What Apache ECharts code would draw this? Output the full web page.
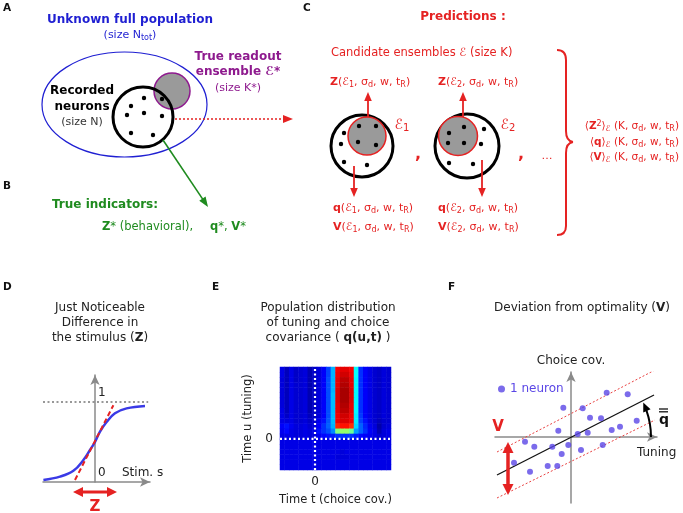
<!DOCTYPE html>
<html><head><meta charset="utf-8">
<script src="https://cdn.jsdelivr.net/npm/echarts@6/dist/echarts.min.js"></script>
<style>html,body{margin:0;padding:0;background:#fff}#c{width:683px;height:513px}</style>
</head><body><div id="c"></div>
<script>
// ---------- Panel D : psychometric curve ----------
const sigmoidS = [-1.29, -0.875, -0.54, -0.29, -0.125, 0, 0.125, 0.29, 0.5, 0.79, 1.25];
const sigmoidP = [0.025, 0.067, 0.14, 0.275, 0.4, 0.5, 0.63, 0.75, 0.86, 0.92, 0.95];
const tangentS = [-0.5, 0.46];
const tangentP = [0.025, 0.96];
const ceilingS = [-1.3, 1.33];
const ceilingP = [1, 1];
const zArrowS = [-0.55, 0.55];
const zArrowP = -0.125;

// ---------- Panel E : q(u,t) heat map (rows top->bottom, jet scale 0-100) ----------
const heatRows = [
 [10, 6,10, 7, 8, 9, 5, 7, 9,12,19,30,88,90,90,88,38,17,12,10, 8, 7, 9, 8],
 [10, 6,10, 7, 8, 9, 5, 7, 9,12,19,30,89,92,92,89,38,17,12,10, 8, 7, 9, 8],
 [ 9, 6,10, 7, 8, 9, 5, 7, 9,12,20,30,90,94,94,90,37,17,12,10, 8, 7, 9, 8],
 [ 9, 6,10, 8, 8, 9, 5, 7, 9,12,20,30,90,95,95,90,37,17,12,10, 8, 7, 9, 8],
 [ 9, 6,10, 8, 8, 9, 5, 7, 9,12,20,30,91,96,96,91,37,17,12,10, 8, 7, 9, 8],
 [ 9, 6,10, 8, 8, 9, 5, 7, 9,12,20,31,91,96,96,91,37,17,12,10, 8, 7, 9, 8],
 [ 9, 6,10, 8, 8, 9, 5, 7, 9,12,20,31,91,96,96,91,37,17,12,10, 8, 7, 9, 8],
 [ 9, 6,10, 8, 8, 9, 5, 7, 9,12,20,31,90,95,95,90,37,17,12,10, 8, 7, 9, 8],
 [10, 6,10, 8, 8, 9, 5, 7, 9,12,20,31,90,94,94,90,37,17,12,10, 8, 7, 9, 8],
 [10, 7,10, 8, 8, 9, 6, 7, 9,12,20,31,89,92,92,89,36,18,12,10, 8, 7, 9, 8],
 [10, 9,10, 8, 8, 9, 7, 8,11,14,21,31,89,91,91,89,36,19,14,10, 8, 6, 8, 8],
 [12,14,11, 9, 9,10, 8, 9,12,17,22,30,84,86,86,83,34,22,16,11, 9, 4, 8, 9],
 [11,13,10, 9, 9,10, 9,10,14,17,20,26,50,52,52,48,28,22,17,12,10, 5, 9,10],
 [10,10,10, 9, 9,10, 9, 9,11,13,14,15,17,17,17,17,15,13,12,11,10, 8, 9,10],
 [10,10,10,10,10,10,10,10,10,10,10,10,10,10,10,10,10,10,10,10,10,10,10,10],
 [10,10,10,10,10,10,10,10,10,10,10,10,10,10,10,10,10,10,10,10,10,10,10,10],
 [10,10,10,10,10,10,10,10,10,10,10,10,10, 9,10,10,10,10,10,10,10,10,10,10],
 [10,10,10,10,10,10,10,10,10,10,10,10, 9, 9, 9,10,10,10,10,10,10,10,10,10],
 [10,10,10,10,10,10,10,10,10,10,10,10,10,10,10,10,10,10,10,10,10,10,10,10],
 [10,10,10,10,10,10,10,10,10,10,10,10,10,10,10,10,10,10,10,10,10,10,10,10]
];
const heatTimeT = [-0.7, 1.52];   // extent of choice-cov. time axis
const heatTimeU = [-0.6, 1.39];   // extent of tuning time axis

// ---------- Panel F : tuning vs choice covariance ----------
const tuning    = [-0.77, 1.17, 3.57, 5.67, 1.9, 3.0, -1.27, 0.67, 1.67, 4.07, 4.9, 6.57, -4.6, -3.67, -1.87, -0.27, -0.93, 1.0, 3.17, -5.7, -4.1, -2.33, -1.37];
const choiceCov = [2.93, 2.87, 4.43, 4.27, 1.93, 1.87, 0.63, 0.3, 0.43, 0.7, 1.03, 1.63, -0.47, -0.97, -0.97, -0.8, -1.7, -1.3, -0.8, -2.57, -3.47, -2.9, -2.9];
const fitX = [-7.4, 8.3],   fitY = [-3.8, 4.2];
const upX  = [-7.4, 8.4],   upY  = [-1.5, 6.7];
const loX  = [-7.4, 8.4],   loY  = [-6.1, 1.7];
const vArrowX = -6.3, vArrowY = [-0.5, -5.8];

const FF = 'DejaVu Sans';
const RED = '#e52222', BLUE = '#1f1fd2', GREEN = '#1f8b1f', PURPLE = '#8e1a8e', DOT = '#5a46e6', GRAY = '#8a8a8a';
const JET = ['#00007f','#0000ff','#007fff','#00ffff','#7fff7f','#ffff00','#ff7f00','#ff0000','#7f0000'];

const pair = (xs, ys) => xs.map((x, i) => [x, ys[i]]);
const heatData = [];
heatRows.forEach((row, r) => row.forEach((v, c) => heatData.push([c, r, v])));
const heatCols = heatRows[0].map((_, i) => String(i));
const heatRowCats = heatRows.map((_, i) => String(i));

const chart = echarts.init(document.getElementById('c'), null, {renderer: 'canvas'});

const arrowAxisLine = {show: true, onZero: true, symbol: ['none', 'arrow'], symbolSize: [7, 10], lineStyle: {color: GRAY, width: 1.5}};

chart.setOption({
  animation: false,
  textStyle: {fontFamily: FF},
  grid: [
    {left: 43, top: 375, width: 107, height: 107},
    {left: 280, top: 367, width: 111, height: 103},
    {left: 280, top: 367, width: 111, height: 103},
    {left: 495, top: 372, width: 162, height: 131}
  ],
  xAxis: [
    {gridIndex: 0, type: 'value', min: -1.3, max: 1.375, axisLine: arrowAxisLine, axisTick: {show: false}, axisLabel: {show: false}, splitLine: {show: false}},
    {gridIndex: 1, type: 'category', data: heatCols, show: false},
    {gridIndex: 2, type: 'value', min: heatTimeT[0], max: heatTimeT[1], axisLine: {show: false}, axisTick: {show: false}, splitLine: {show: false},
     axisLabel: {customValues: [0], margin: 6, color: '#222', fontSize: 12, fontFamily: FF},
     name: 'Time t (choice cov.)', nameLocation: 'middle', nameGap: 24, nameTextStyle: {color: '#222', fontSize: 11.5, fontFamily: FF}},
    {gridIndex: 3, type: 'value', min: -7.6, max: 8.6, axisLine: arrowAxisLine, axisTick: {show: false}, axisLabel: {show: false}, splitLine: {show: false}}
  ],
  yAxis: [
    {gridIndex: 0, type: 'value', min: 0, max: 1.3375, axisLine: arrowAxisLine, axisTick: {show: false}, axisLabel: {show: false}, splitLine: {show: false}},
    {gridIndex: 1, type: 'category', data: heatRowCats, inverse: true, show: false},
    {gridIndex: 2, type: 'value', min: heatTimeU[0], max: heatTimeU[1], axisLine: {show: false}, axisTick: {show: false}, splitLine: {show: false},
     axisLabel: {customValues: [0], margin: 7, color: '#222', fontSize: 12, fontFamily: FF},
     name: 'Time u (tuning)', nameLocation: 'middle', nameGap: 26, nameTextStyle: {color: '#222', fontSize: 11.5, fontFamily: FF}},
    {gridIndex: 3, type: 'value', min: -6.6, max: 6.5, axisLine: arrowAxisLine, axisTick: {show: false}, axisLabel: {show: false}, splitLine: {show: false},
     name: 'Choice cov.', nameLocation: 'end', nameGap: 5, nameTextStyle: {color: '#222', fontSize: 12, fontFamily: FF}}
  ],
  visualMap: {show: false, type: 'continuous', min: 0, max: 100, seriesIndex: 3, inRange: {color: JET}},
  legend: {data: ['1 neuron'], left: 493, top: 378, icon: 'circle', itemWidth: 7, itemHeight: 7, itemGap: 5,
           textStyle: {color: DOT, fontSize: 12, fontFamily: FF}, selectedMode: false},
  series: [
    {type: 'line', xAxisIndex: 0, yAxisIndex: 0, data: pair(sigmoidS, sigmoidP), smooth: 0.4, showSymbol: false, lineStyle: {color: '#3a3ae6', width: 2.5}, z: 3},
    {type: 'line', xAxisIndex: 0, yAxisIndex: 0, data: pair(ceilingS, ceilingP), showSymbol: false, lineStyle: {color: '#777', width: 1.5, type: [2, 2.5]}},
    {type: 'line', xAxisIndex: 0, yAxisIndex: 0, data: pair(tangentS, tangentP), showSymbol: false, lineStyle: {color: RED, width: 2, type: [5, 3]}, z: 4},
    {type: 'heatmap', xAxisIndex: 1, yAxisIndex: 1, data: heatData, itemStyle: {borderWidth: 0}, emphasis: {disabled: true}, progressive: 0},
    {type: 'line', xAxisIndex: 2, yAxisIndex: 2, data: [[0, heatTimeU[0]], [0, heatTimeU[1]]], showSymbol: false, lineStyle: {color: '#fff', width: 2.2, type: [2, 2.5]}, z: 5},
    {type: 'line', xAxisIndex: 2, yAxisIndex: 2, data: [[heatTimeT[0], 0], [heatTimeT[1], 0]], showSymbol: false, lineStyle: {color: '#fff', width: 2.2, type: [2, 2.5]}, z: 5},
    {name: '1 neuron', type: 'scatter', xAxisIndex: 3, yAxisIndex: 3, data: pair(tuning, choiceCov), symbolSize: 6, itemStyle: {color: DOT}, z: 4},
    {type: 'line', xAxisIndex: 3, yAxisIndex: 3, data: pair(fitX, fitY), showSymbol: false, lineStyle: {color: '#111', width: 1.3}},
    {type: 'line', xAxisIndex: 3, yAxisIndex: 3, data: pair(upX, upY), showSymbol: false, lineStyle: {color: '#e84040', width: 1, type: [2, 2]}},
    {type: 'line', xAxisIndex: 3, yAxisIndex: 3, data: pair(loX, loY), showSymbol: false, lineStyle: {color: '#e84040', width: 1, type: [2, 2]}}
  ]
});

// ---------- schematic drawing helpers ----------
function rich(color, size) {
  const s = Math.round(size * 0.72);
  return {
    b:   {fontWeight: 'bold', fill: color, fontSize: size, fontFamily: FF},
    sub: {fontSize: s, fill: color, fontFamily: FF, padding: [Math.round(size * 0.5), 0, 0, 0]},
    sup: {fontSize: s, fill: color, fontFamily: FF, padding: [0, 0, Math.round(size * 0.5), 0]}
  };
}
function txt(x, y, text, o) {
  o = o || {};
  const size = o.size || 12, fill = o.fill || '#222';
  return {type: 'text', x: x, y: y, z: 20, rotation: o.rot || 0,
    style: {text: text, fill: fill, fontSize: size, fontFamily: FF, fontWeight: o.bold ? 'bold' : 'normal',
            align: o.align || 'center', verticalAlign: 'middle', rich: rich(fill, size)}};
}
function arrow(x1, y1, x2, y2, o) {
  o = o || {};
  const hl = o.hl || 9, hw = o.hw || 3.5, col = o.color || '#000';
  const dx = x2 - x1, dy = y2 - y1, L = Math.hypot(dx, dy), ux = dx / L, uy = dy / L, px = -uy, py = ux;
  const els = [];
  const sx = o.both ? x1 + ux * hl * 0.8 : x1, sy = o.both ? y1 + uy * hl * 0.8 : y1;
  els.push({type: 'line', z: 15, shape: {x1: sx, y1: sy, x2: x2 - ux * hl * 0.8, y2: y2 - uy * hl * 0.8},
            style: {stroke: col, lineWidth: o.lw || 1.5, lineDash: o.dash || null}});
  const head = (tx, ty, ax, ay) => ({type: 'polygon', z: 16, shape: {points: [[tx, ty], [tx - ax * hl + px * hw, ty - ay * hl + py * hw], [tx - ax * hl - px * hw, ty - ay * hl - py * hw]]}, style: {fill: col}});
  els.push(head(x2, y2, ux, uy));
  if (o.both) els.push(head(x1, y1, -ux, -uy));
  return els;
}
const circ = (cx, cy, r, fill, stroke, lw, z) => ({type: 'circle', z: z || 10, shape: {cx: cx, cy: cy, r: r}, style: {fill: fill, stroke: stroke, lineWidth: lw || 0}});
const seg = (x1, y1, x2, y2, col, lw) => ({type: 'line', z: 10, shape: {x1: x1, y1: y1, x2: x2, y2: y2}, style: {stroke: col, lineWidth: lw}});
const qcurve = (x1, y1, cx, cy, x2, y2, col, lw) => ({type: 'bezierCurve', z: 10, shape: {x1: x1, y1: y1, cpx1: cx, cpy1: cy, x2: x2, y2: y2}, style: {fill: 'none', stroke: col, lineWidth: lw}});

const G = [];
// panel letters
[['A', 3, 8], ['B', 3, 186], ['C', 303, 8], ['D', 3, 287], ['E', 212, 287], ['F', 448, 287]].forEach(l => G.push(txt(l[1], l[2], l[0], {bold: true, size: 10.5, align: 'left', fill: '#111'})));

// ----- Panel A -----
G.push({type: 'ellipse', z: 8, shape: {cx: 124.5, cy: 104.5, rx: 82.5, ry: 52.5}, style: {fill: 'none', stroke: BLUE, lineWidth: 1.2}});
G.push(circ(172, 91, 18, '#9a9a9a', PURPLE, 1.5, 9));
G.push(circ(143, 117, 30, 'none', '#000', 3, 11));
[[131,106],[144,98],[162,99],[127,115],[144,113],[162,116],[131,133],[153,135]].forEach(p => G.push(circ(p[0], p[1], 2.2, '#000', null, 0, 12)));
G.push(...arrow(175, 119, 293, 119, {color: RED, lw: 1.6, dash: [2, 2], hl: 10, hw: 4}));
G.push(...arrow(163, 140, 208, 207, {color: GREEN, lw: 1.6, hl: 10, hw: 3.8}));
G.push(txt(130, 20, 'Unknown full population', {bold: true, fill: BLUE}));
G.push(txt(130, 35, '(size N{sub|tot})', {size: 11, fill: BLUE}));
G.push(txt(238, 57, 'True readout', {bold: true, fill: PURPLE}));
G.push(txt(238, 72, 'ensemble ℰ*', {bold: true, fill: PURPLE}));
G.push(txt(238, 88, '(size K*)', {size: 11, fill: PURPLE}));
G.push(txt(82, 91, 'Recorded', {bold: true, fill: '#000'}));
G.push(txt(82, 107, 'neurons', {bold: true, fill: '#000'}));
G.push(txt(82, 122, '(size N)', {size: 11, fill: '#333'}));

// ----- Panel B -----
G.push(txt(52, 205, 'True indicators:', {bold: true, fill: GREEN, align: 'left'}));
G.push(txt(102, 227, '{b|Z}* (behavioral),', {size: 11.5, fill: GREEN, align: 'left'}));
G.push(txt(210, 227, '{b|q}*, {b|V}*', {size: 11.5, fill: GREEN, align: 'left'}));

// ----- Panel C -----
G.push(txt(463, 17, 'Predictions :', {bold: true, fill: RED}));
G.push(txt(331, 53, 'Candidate ensembles ℰ (size K)', {size: 11.5, fill: RED, align: 'left'}));
G.push(txt(330, 82, '{b|Z}(ℰ{sub|1}, σ{sub|d}, w, t{sub|R})', {size: 11, fill: RED, align: 'left'}));
G.push(txt(438, 82, '{b|Z}(ℰ{sub|2}, σ{sub|d}, w, t{sub|R})', {size: 11, fill: RED, align: 'left'}));
G.push(txt(333, 208, '{b|q}(ℰ{sub|1}, σ{sub|d}, w, t{sub|R})', {size: 11, fill: RED, align: 'left'}));
G.push(txt(333, 227, '{b|V}(ℰ{sub|1}, σ{sub|d}, w, t{sub|R})', {size: 11, fill: RED, align: 'left'}));
G.push(txt(438, 208, '{b|q}(ℰ{sub|2}, σ{sub|d}, w, t{sub|R})', {size: 11, fill: RED, align: 'left'}));
G.push(txt(438, 227, '{b|V}(ℰ{sub|2}, σ{sub|d}, w, t{sub|R})', {size: 11, fill: RED, align: 'left'}));
// ensemble 1
G.push(circ(362, 146, 31, 'none', '#000', 3, 9));
G.push(circ(367, 136, 19, '#9a9a9a', RED, 1.5, 10));
[[359,126],[376,126],[358,142],[376,145],[344,133],[341,144],[344,162],[367,165]].forEach(p => G.push(circ(p[0], p[1], 2.2, '#000', null, 0, 12)));
// ensemble 2
G.push(circ(467, 146, 32, 'none', '#000', 3, 9));
G.push(circ(458, 136, 19.5, '#9a9a9a', RED, 1.5, 10));
[[449,133],[464,127],[448,143],[464,143],[484,129],[481,144],[449,163],[473,164]].forEach(p => G.push(circ(p[0], p[1], 2.2, '#000', null, 0, 12)));
G.push(...arrow(368, 117, 368, 92, {color: RED, lw: 1.8, hl: 9, hw: 3.8}));
G.push(...arrow(463, 117, 463, 92, {color: RED, lw: 1.8, hl: 9, hw: 3.8}));
G.push(...arrow(354, 166, 354, 197, {color: RED, lw: 1.8, hl: 9, hw: 3.8}));
G.push(...arrow(482, 160, 482, 197, {color: RED, lw: 1.8, hl: 9, hw: 3.8}));
G.push(txt(402, 125, 'ℰ{sub|1}', {size: 14, fill: RED}));
G.push(txt(508, 125, 'ℰ{sub|2}', {size: 14, fill: RED}));
G.push(txt(418, 155, ',', {size: 16, bold: true, fill: RED}));
G.push(txt(521, 155, ',', {size: 16, bold: true, fill: RED}));
G.push(txt(547, 156, '…', {size: 11, fill: RED}));
// curly brace
G.push(qcurve(557, 50, 566, 50, 566, 60, RED, 2));
G.push(seg(566, 60, 566, 131, RED, 2));
G.push(qcurve(566, 131, 566, 141, 573, 142, RED, 2));
G.push(qcurve(573, 142, 566, 143, 566, 153, RED, 2));
G.push(seg(566, 153, 566, 226, RED, 2));
G.push(qcurve(566, 226, 566, 235, 557, 235, RED, 2));
G.push(txt(679, 126, '⟨{b|Z}{sup|2}⟩{sub|ℰ} (K, σ{sub|d}, w, t{sub|R})', {size: 10.5, fill: RED, align: 'right'}));
G.push(txt(679, 142, '⟨{b|q}⟩{sub|ℰ} (K, σ{sub|d}, w, t{sub|R})', {size: 10.5, fill: RED, align: 'right'}));
G.push(txt(679, 157, '⟨{b|V}⟩{sub|ℰ} (K, σ{sub|d}, w, t{sub|R})', {size: 10.5, fill: RED, align: 'right'}));

// ----- Panel D -----
G.push(txt(100, 308, 'Just Noticeable'));
G.push(txt(100, 323, 'Difference in'));
G.push(txt(100, 338, 'the stimulus ({b|Z})'));
const d1 = chart.convertToPixel({gridIndex: 0}, [0, 1]);
const d0 = chart.convertToPixel({gridIndex: 0}, [0, 0]);
G.push(txt(d1[0] + 3, d1[1] - 9, '1', {align: 'left'}));
G.push(txt(d0[0] + 3, d0[1] - 9, '0', {align: 'left'}));
G.push(txt(d0[0] + 27, d0[1] - 9, 'Stim. s', {align: 'left'}));
const za = chart.convertToPixel({gridIndex: 0}, [zArrowS[0], zArrowP]);
const zb = chart.convertToPixel({gridIndex: 0}, [zArrowS[1], zArrowP]);
G.push(...arrow(za[0], za[1], zb[0], zb[1], {color: RED, lw: 3, hl: 10, hw: 5, both: true}));
G.push(txt((za[0] + zb[0]) / 2, za[1] + 15, 'Z', {bold: true, size: 15, fill: RED}));

// ----- Panel E -----
G.push(txt(328, 308, 'Population distribution'));
G.push(txt(328, 323, 'of tuning and choice'));
G.push(txt(328, 338, 'covariance ( {b|q(u,t)} )'));

// ----- Panel F -----
G.push(txt(582, 308, 'Deviation from optimality ({b|V})'));
const o = chart.convertToPixel({gridIndex: 3}, [0, 0]);
G.push(txt(o[0] + 66, o[1] + 16, 'Tuning', {align: 'left'}));
const va = chart.convertToPixel({gridIndex: 3}, [vArrowX, vArrowY[0]]);
const vb = chart.convertToPixel({gridIndex: 3}, [vArrowX, vArrowY[1]]);
G.push(...arrow(va[0], va[1], vb[0], vb[1], {color: RED, lw: 3.5, hl: 11, hw: 5.5, both: true}));
G.push(txt(va[0] - 10, va[1] - 15, 'V', {bold: true, size: 15, fill: RED}));
// angle arc (slope of the fit)
const R = 80, a0 = -0.42;
G.push({type: 'arc', z: 15, shape: {cx: o[0], cy: o[1], r: R, startAngle: a0 + 0.08, endAngle: 0, clockwise: true}, style: {fill: 'none', stroke: '#000', lineWidth: 2}});
const ex = o[0] + R * Math.cos(a0), ey = o[1] + R * Math.sin(a0);
const tdx = Math.sin(a0), tdy = -Math.cos(a0);
G.push({type: 'polygon', z: 16, shape: {points: [[ex + tdx * 2, ey + tdy * 2], [ex - tdx * 7 - tdy * 4, ey - tdy * 7 + tdx * 4], [ex - tdx * 7 + tdy * 4, ey - tdy * 7 - tdx * 4]]}, style: {fill: '#000'}});
G.push(txt(664, 420, 'q', {bold: true, size: 14, fill: '#111'}));
G.push({type: 'line', z: 16, shape: {x1: 659, y1: 409, x2: 668, y2: 409}, style: {stroke: '#111', lineWidth: 1.3}});
G.push({type: 'line', z: 16, shape: {x1: 659, y1: 411.8, x2: 668, y2: 411.8}, style: {stroke: '#111', lineWidth: 1.3}});

chart.setOption({graphic: {elements: G}});
</script>
</body></html>
